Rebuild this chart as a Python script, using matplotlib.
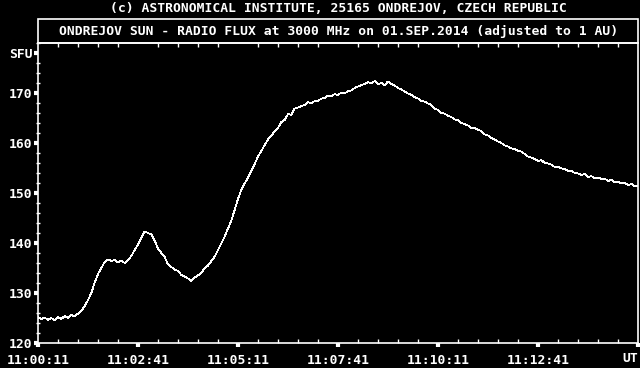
"""Ondrejov 3000 MHz solar radio flux, 01.SEP.2014, 11:00:11-11:15:11 UT."""
import numpy as np
import matplotlib; matplotlib.use("Agg"); import matplotlib.pyplot as plt
from matplotlib.patches import Rectangle

# flux (SFU) sampled every 5 s from 11:00:11
SECONDS = np.arange(0, 905, 5)
FLUX = [
    125.2, 124.8, 125.1, 124.6, 125.0, 124.5, 125.2, 124.8, 125.4, 125.0,
    125.6, 125.3, 125.9, 126.4, 127.4, 128.6, 130.0, 132.1, 133.8, 135.0,
    136.2, 136.7, 136.4, 136.6, 136.1, 136.5, 136.0, 136.6, 137.4, 138.6,
    139.7, 141.0, 142.3, 142.0, 141.7, 140.5, 138.9, 138.0, 137.2, 135.7,
    135.2, 134.7, 134.4, 133.6, 133.3, 132.9, 132.4, 133.1, 133.5, 134.1,
    134.9, 135.5, 136.4, 137.3, 138.6, 139.9, 141.3, 142.9, 144.5, 146.6,
    148.8, 150.6, 151.9, 153.1, 154.5, 155.8, 157.3, 158.4, 159.6, 160.7,
    161.4, 162.4, 163.0, 164.2, 164.6, 165.8, 165.6, 166.9, 167.1, 167.4,
    167.6, 168.2, 167.9, 168.4, 168.4, 168.9, 169.0, 169.5, 169.3, 169.8,
    169.6, 170.1, 169.9, 170.4, 170.5, 171.0, 171.3, 171.6, 171.8, 172.2,
    171.9, 172.4, 171.8, 172.0, 171.6, 172.3, 171.8, 171.5, 171.0, 170.7,
    170.3, 169.9, 169.6, 169.2, 168.9, 168.4, 168.3, 167.9, 167.6, 166.9,
    166.6, 166.0, 165.9, 165.4, 165.2, 164.7, 164.6, 164.0, 163.8, 163.5,
    163.0, 163.0, 162.6, 162.4, 161.7, 161.5, 161.0, 160.7, 160.3, 160.0,
    159.5, 159.3, 158.9, 158.8, 158.4, 158.3, 157.8, 157.3, 157.1, 156.8,
    156.4, 156.6, 156.0, 155.9, 155.7, 155.2, 155.3, 154.9, 154.8, 154.4,
    154.5, 154.0, 153.9, 153.6, 153.8, 153.2, 153.4, 152.9, 153.1, 152.8,
    152.9, 152.4, 152.6, 152.2, 152.3, 151.9, 152.0, 151.6, 151.8, 151.4,
    151.3,
]
X_TICKS = [0, 150, 300, 450, 600, 750, 900]
X_LABELS = ["11:00:11", "11:02:41", "11:05:11", "11:07:41", "11:10:11", "11:12:41", ""]
Y_TICKS = [120, 130, 140, 150, 160, 170, 178]
Y_LABELS = ["120", "130", "140", "150", "160", "170", "SFU"]
TOP_LINE = "(c) ASTRONOMICAL INSTITUTE, 25165 ONDREJOV, CZECH REPUBLIC"
TITLE = "ONDREJOV SUN - RADIO FLUX at 3000 MHz on 01.SEP.2014 (adjusted to 1 AU)"

FONT = dict(family="DejaVu Sans Mono", weight="bold", size=9.4, color="white")
W, H = 640, 368
fig = plt.figure(figsize=(6.4, 3.68), dpi=100, facecolor="black")
ax = fig.add_axes([38/W, 25/H, 600/W, 300/H], facecolor="black")
ax.plot(SECONDS, FLUX, color="white", lw=0.55, antialiased=False)
ax.set_xlim(0, 900); ax.set_ylim(120, 180)
for s in ax.spines.values(): s.set_color("white"); s.set_linewidth(1.2)

ax.set_xticks(X_TICKS); ax.set_xticklabels(X_LABELS, **FONT)
ax.set_xticks(np.arange(0, 901, 30), minor=True)
ax.set_yticks(Y_TICKS); ax.set_yticklabels(Y_LABELS, **FONT)
ax.set_yticks(np.arange(120, 181, 2), minor=True)
ax.tick_params(axis="x", which="major", direction="out", length=3, width=3, color="white", pad=5, top=False)
ax.tick_params(axis="x", which="minor", direction="in", length=3, width=1, color="white", top=True)
ax.tick_params(axis="y", which="major", direction="out", length=3, width=3, color="white", pad=1)
ax.tick_params(axis="y", which="minor", direction="inout", length=3, width=1, color="white")

# title box above the axes
fig.patches.append(Rectangle((38/W, (368-43)/H), 600/W, 24/H, transform=fig.transFigure,
                             fill=False, edgecolor="white", lw=1.2))
fig.text(339/W, 1 - 31/H, TITLE, ha="center", va="center", **FONT)
fig.text(338/W, 1 - 8/H, TOP_LINE, ha="center", va="center", **FONT)
fig.text(638/W, 1 - 358/H, "UT", ha="right", va="center", **FONT)
fig.savefig("out.png", dpi=100, facecolor="black")
